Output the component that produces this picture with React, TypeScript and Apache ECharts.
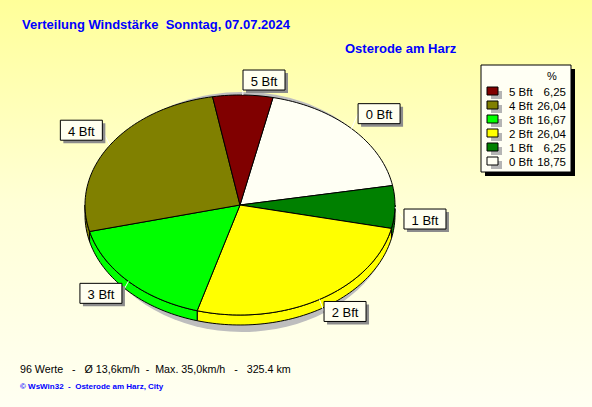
import React, { useEffect, useRef } from 'react';
import * as echarts from 'echarts';

// ---- data ----
const categories = ['0 Bft', '1 Bft', '2 Bft', '3 Bft', '4 Bft', '5 Bft'];
const percentages = [18.75, 6.25, 26.04, 16.67, 26.04, 6.25];
const sliceColors = ['#FFFFF4', '#008000', '#FFFF00', '#00FF00', '#808000', '#800000'];
const titleText = 'Verteilung Windstärke  Sonntag, 07.07.2024';
const stationText = 'Osterode am Harz';
const footerText = '96 Werte   -   Ø 13,6km/h  -  Max. 35,0km/h   -   325.4 km';
const copyrightText = '© WsWin32  -  Osterode am Harz, City';

// ---- geometry / style ----
const CX = 240, CY = 205, RX = 155, RY = 110, DEPTH = 10, START = 12.3;
const FONT = '"Liberation Sans", Arial, sans-serif';

const fmt = (v: number) => v.toFixed(2).replace('.', ',');
// keep runs of spaces visible in SVG text
const pre = (s: string) => s.replace(/ {2,}/g, (m) => ' ' + '\u00A0'.repeat(m.length - 1));

export default function App() {
  const ref = useRef<HTMLDivElement>(null);
  useEffect(() => {
    document.body.style.margin = '0';
    const chart = echarts.init(ref.current!, null, { renderer: 'svg' });
    const total = percentages.reduce((a, b) => a + b, 0);
    const pt = (deg: number, dy = 0): number[] => {
      const r = (deg * Math.PI) / 180;
      return [CX + RX * Math.sin(r), CY - RY * Math.cos(r) + dy];
    };

    const renderItem = (params: any, api: any) => {
      const i = params.dataIndex;
      const v = api.value(0);
      let before = 0;
      for (let k = 0; k < i; k++) before += percentages[k];
      const a0 = START + (before / total) * 360;
      const a1 = a0 + (v / total) * 360;
      const color = sliceColors[i];
      const children: any[] = [];

      // side walls (front half of the ellipse)
      for (const off of [0, 360]) {
        const s = Math.max(a0, 90 + off);
        const e = Math.min(a1, 270 + off);
        if (e > s) {
          const n = Math.max(2, Math.ceil((e - s) / 1.5));
          const topArc: number[][] = [];
          const botArc: number[][] = [];
          for (let k = 0; k <= n; k++) {
            const d = s + ((e - s) * k) / n;
            topArc.push(pt(d));
            botArc.push(pt(d, DEPTH));
          }
          children.push({
            type: 'polygon',
            z2: 1,
            shape: { points: topArc.concat(botArc.reverse()) },
            style: { fill: color, stroke: '#000', lineWidth: 1 },
          });
        }
      }

      // top face
      const n = Math.max(2, Math.ceil((a1 - a0) / 1.5));
      const pts: number[][] = [[CX, CY]];
      for (let k = 0; k <= n; k++) pts.push(pt(a0 + ((a1 - a0) * k) / n));
      children.push({
        type: 'polygon',
        z2: 5,
        shape: { points: pts },
        style: { fill: color, stroke: '#000', lineWidth: 1 },
      });

      // label box
      const mid = (a0 + a1) / 2;
      const mr = (mid * Math.PI) / 180;
      const sn = Math.sin(mr), cs = Math.cos(mr);
      const rim = pt(mid);
      const ax = rim[0] + 9 * sn;
      const ay = rim[1] + (cs >= 0 ? -15 : 12);
      const w = 42, h = 20;
      const left = sn >= 0 ? ax : ax - w;
      const top = ay - h / 2;
      children.push({
        type: 'line', z2: 8,
        shape: { x1: rim[0], y1: rim[1], x2: ax, y2: ay },
        style: { stroke: '#FFFFFF', lineWidth: 1 },
      });
      children.push({
        type: 'rect', z2: 9,
        shape: { x: left + 3, y: top + 3, width: w, height: h },
        style: { fill: '#8C8C8C' },
      });
      children.push({
        type: 'rect', z2: 10,
        shape: { x: left, y: top, width: w, height: h },
        style: { fill: '#FFFFF0', stroke: '#000', lineWidth: 1 },
      });
      children.push({
        type: 'text', z2: 11,
        style: {
          x: left + w / 2, y: top + h / 2 + 1,
          text: categories[i], align: 'center', verticalAlign: 'middle',
          font: `13px ${FONT}`, fill: '#000',
        },
      });
      return { type: 'group', children };
    };

    // legend built from arrays (reverse order)
    const legendEls: any[] = [
      { type: 'rect', z: 5, shape: { x: 485, y: 69, width: 90, height: 107 }, style: { fill: '#000' } },
      { type: 'rect', z: 6, shape: { x: 481, y: 65, width: 90, height: 107 }, style: { fill: '#FFFFF4', stroke: '#000', lineWidth: 1 } },
      { type: 'text', z: 7, style: { x: 552, y: 76, text: '%', align: 'center', verticalAlign: 'middle', font: `11px ${FONT}`, fill: '#000' } },
    ];
    for (let j = 0; j < categories.length; j++) {
      const idx = categories.length - 1 - j;
      const y = 91 + 14 * j;
      legendEls.push(
        { type: 'rect', z: 7, shape: { x: 491, y: y, width: 11, height: 8 }, style: { fill: '#B4B4B4' } },
        { type: 'rect', z: 8, shape: { x: 487, y: y - 4, width: 11, height: 8 }, style: { fill: sliceColors[idx], stroke: '#000', lineWidth: 1 } },
        { type: 'text', z: 8, style: { x: 509, y: y + 1, text: categories[idx], align: 'left', verticalAlign: 'middle', font: `11.5px ${FONT}`, fill: '#000' } },
        { type: 'text', z: 8, style: { x: 566, y: y + 1, text: fmt(percentages[idx]), align: 'right', verticalAlign: 'middle', font: `11.5px ${FONT}`, fill: '#000' } },
      );
    }

    chart.setOption({
      animation: false,
      backgroundColor: 'transparent',
      graphic: [
        { type: 'ellipse', z: 1, shape: { cx: 242, cy: 212, rx: 152, ry: 120 }, style: { fill: '#BEBEBE' } },
        { type: 'text', z: 5, style: { x: 22, y: 24, text: pre(titleText), verticalAlign: 'middle', font: `bold 13px ${FONT}`, fill: '#0000FF' } },
        { type: 'text', z: 5, style: { x: 345, y: 48, text: stationText, verticalAlign: 'middle', font: `bold 13px ${FONT}`, fill: '#0000FF' } },
        { type: 'text', z: 5, style: { x: 20, y: 369, text: pre(footerText), verticalAlign: 'middle', font: `10.7px ${FONT}`, fill: '#000' } },
        { type: 'text', z: 5, style: { x: 20, y: 386, text: pre(copyrightText), verticalAlign: 'middle', font: `bold 8px ${FONT}`, fill: '#0000FF' } },
        ...legendEls,
      ],
      series: [
        {
          type: 'custom',
          coordinateSystem: 'none',
          z: 2,
          silent: true,
          data: percentages.map((v) => [v]),
          renderItem,
        },
      ],
    });
    return () => chart.dispose();
  }, []);
  return (
    <div
      ref={ref}
      style={{ width: 592, height: 407, background: 'linear-gradient(to bottom, #FFFF99 0%, #FFFFD6 50%, #FFFFF2 100%)' }}
    />
  );
}
